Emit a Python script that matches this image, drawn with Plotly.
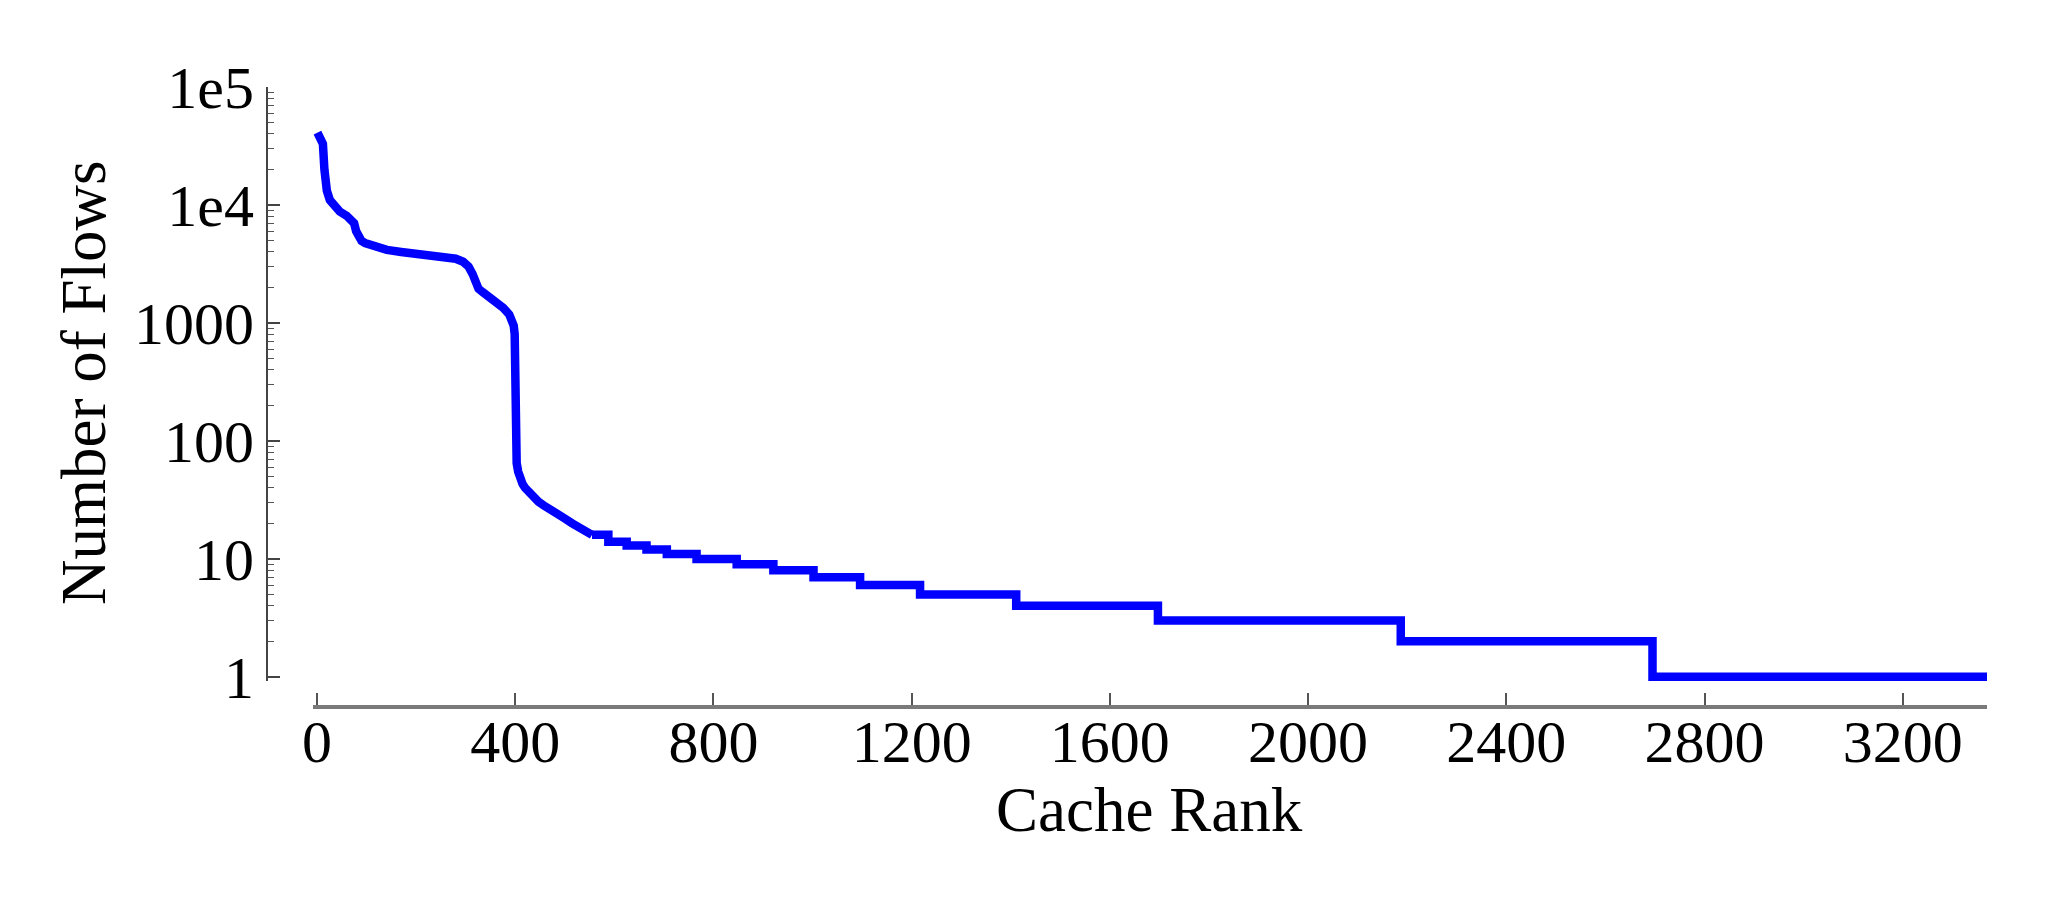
import plotly.graph_objects as go

# smooth head of the rank curve (cache rank, number of flows)
head_rank = [1, 8, 12, 15, 17, 20, 26, 36, 46, 60, 70, 75, 79, 84, 90, 97, 120, 141,
             170, 201, 230, 254, 280, 295, 306, 314, 320, 326, 334, 342, 363, 376,
             388, 394, 397, 399, 401, 403, 406, 410, 415, 420, 428, 437, 447, 457,
             470, 485, 500, 515, 530, 545, 555]
head_flows = [41000, 35000, 33000, 20000, 15500, 13200, 11000, 9800, 8800, 8100,
              7500, 7000, 6000, 5300, 4950, 4760, 4400, 4160, 4000, 3890, 3800,
              3700, 3500, 3300, 3000, 2600, 2150, 1950, 1830, 1730, 1470, 1340,
              1180, 1060, 950, 800, 80, 65, 55, 48, 43, 40, 36.5, 33.5, 30.5, 28.5,
              26, 24, 22, 20, 18.5, 17, 16]

# integer-valued tail, drawn as steps
step_rank = [555, 588, 625, 665, 706, 766, 847, 921, 1002, 1096, 1217, 1411,
             1697, 2187, 2695, 3370]
step_flows = [16, 14, 13, 12, 11, 10, 9, 8, 7, 6, 5, 4, 3, 2, 1, 1]

y_tickvals = [1, 10, 100, 1000, 1e4, 1e5]
y_ticktext = ['1', '10', '100', '1000', '1e4', '1e5']
x_tickvals = [0, 400, 800, 1200, 1600, 2000, 2400, 2800, 3200]

# page has an 8px body margin, so the figure is 16px smaller than the window
W, H = 2032, 894
OFF = 8
FONT = 'Liberation Serif'
BLUE = '#0000ff'


def px(x):
    return (x - OFF) / W


def py(y):
    return 1 - (y - OFF) / H


fig = go.Figure()
fig.add_trace(go.Scatter(
    x=head_rank, y=head_flows, mode='lines',
    line=dict(color=BLUE, width=8.5), showlegend=False
))
fig.add_trace(go.Scatter(
    x=step_rank, y=step_flows, mode='lines',
    line=dict(color=BLUE, width=8.5, shape='hv'), showlegend=False
))

fig.update_xaxes(
    range=[-8, 3370], domain=[px(313), px(1987)],
    anchor='free', position=py(707),
    showgrid=False, zeroline=False,
    showline=True, linecolor='#7a7a7a', linewidth=4,
    ticks='inside', ticklen=12, tickwidth=1.5, tickcolor='#555555',
    tickvals=x_tickvals, ticklabelstandoff=-19,
    tickfont=dict(family=FONT, size=60, color='black'),
    automargin=False
)
fig.update_yaxes(
    type='log', range=[-0.035, 5], domain=[py(681), py(87)],
    anchor='free', position=px(267),
    showgrid=False, zeroline=False,
    showline=True, linecolor='#444444', linewidth=2,
    ticks='inside', ticklen=12, tickwidth=1.5, tickcolor='#444444',
    tickvals=y_tickvals, ticktext=y_ticktext, ticklabelstandoff=0,
    tickfont=dict(family=FONT, size=60, color='black'),
    minor=dict(ticks='inside', ticklen=6, tickwidth=1, tickcolor='#555555',
               dtick='D1', showgrid=False),
    automargin=False
)

fig.add_annotation(
    text='Cache Rank', xref='paper', yref='paper',
    x=px(1149), y=py(810), xanchor='center', yanchor='middle',
    showarrow=False, font=dict(family=FONT, size=63, color='black')
)
fig.add_annotation(
    text='Number of Flows', xref='paper', yref='paper',
    x=px(84), y=py(383), xanchor='center', yanchor='middle',
    showarrow=False, textangle=-90,
    font=dict(family=FONT, size=63, color='black')
)

fig.update_layout(
    width=W, height=H,
    paper_bgcolor='white', plot_bgcolor='white',
    margin=dict(l=0, r=0, t=0, b=0),
    showlegend=False
)

fig.write_html("out.html")
